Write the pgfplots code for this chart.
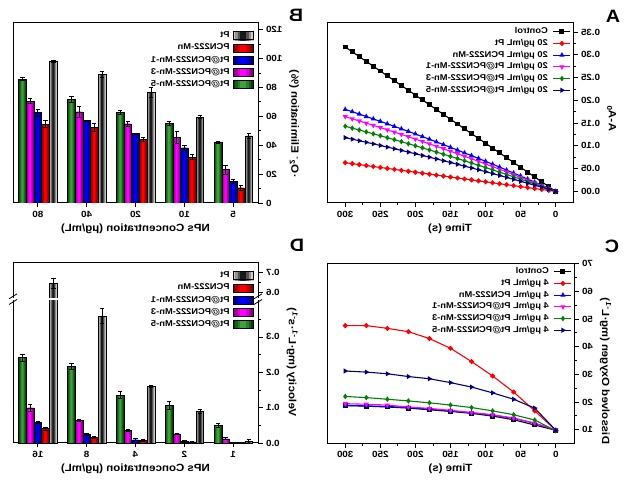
\documentclass[border=0pt]{standalone}
\usepackage{fontspec}
\setmainfont{Liberation Sans}
\usepackage{graphicx}
\usepackage{pgfplots}
\usepackage{pgfplotstable}
\pgfplotsset{compat=1.18}
\newcommand{\R}[1]{\scalebox{-1.1}[1]{#1}}
\definecolor{cgreen}{RGB}{0,128,0}
\definecolor{cnavy}{RGB}{0,0,128}
\definecolor{cmag}{RGB}{255,0,255}
\colorlet{grE}{cgreen!50!black}\colorlet{grC}{cgreen!75!white}
\colorlet{mgE}{cmag!50!black}\colorlet{mgC}{cmag}
\colorlet{blE}{blue!45!black}\colorlet{blC}{blue}
\colorlet{rdE}{red!50!black}\colorlet{rdC}{red}
\colorlet{ptE}{gray!40}\colorlet{ptC}{black!90}
\pgfplotsset{
  panel/.style={
    scale only axis, width=245bp, height=180bp,
    axis line style={line width=1bp},
    tick align=outside,
    major tick length=4.5bp, minor tick length=2.5bp,
    tick style={black, line width=0.8bp},
    xtick pos=bottom, ytick pos=right, yticklabel pos=right,
    /pgf/number format/assume math mode=true,
    ticklabel style={font=\bfseries\fontsize{9}{10}\selectfont},
    label style={font=\bfseries\fontsize{10.5}{12}\selectfont},
    ylabel style={rotate=180},
    legend plot pos=right,
    legend cell align=right,
    legend style={draw=none, fill=none, inner sep=0pt, outer sep=0pt,
      font=\bfseries\fontsize{8.5}{9}\selectfont,
      nodes={inner sep=0pt, text height=6.3bp, text depth=2.2bp},
      column sep=5bp, row sep=3.2bp,
      at={(1,1)}, anchor=north east, xshift=-2bp, yshift=-4.5bp},
  },
  lp/.style={line width=1.1bp, mark size=1.9bp, mark options={solid}},
  eb/.style={error bars/.cd, y dir=both, y explicit,
    error bar style={line width=0.8bp, black, xshift=#1},
    error mark options={rotate=90, black, mark size=2.2bp, line width=0.8bp}},
}
% legend box with a stepped horizontal gradient (edge colour #1, centre colour #2)
\newcommand{\legbox}[2]{%
  \fill[#1] (0bp,-4bp) rectangle (20bp,4bp);
  \fill[#2!33!#1] (2.5bp,-4bp) rectangle (17.5bp,4bp);
  \fill[#2!67!#1] (5bp,-4bp) rectangle (15bp,4bp);
  \fill[#2] (7.5bp,-4bp) rectangle (12.5bp,4bp);
  \draw[black, line width=0.5bp] (0bp,-4bp) rectangle (20bp,4bp);}
% one bar series: #1 table, #2 value column, #3 error column, #4 bar shift, #5 edge colour, #6 centre colour
\newcommand{\barseries}[6]{%
  \addplot[ybar, bar width=7.65bp, bar shift=#4, draw=none, fill=#5, forget plot] table[x=x, y=#2] {#1};
  \addplot[ybar, bar width=5.74bp, bar shift=#4, draw=none, fill=#6!33!#5, forget plot] table[x=x, y=#2] {#1};
  \addplot[ybar, bar width=3.83bp, bar shift=#4, draw=none, fill=#6!67!#5, forget plot] table[x=x, y=#2] {#1};
  \addplot[ybar, bar width=1.91bp, bar shift=#4, draw=none, fill=#6, forget plot] table[x=x, y=#2] {#1};
  \addplot[ybar, bar width=7.65bp, bar shift=#4, draw=black, line width=0.5bp, fill=none, forget plot, eb={#4}] table[x=x, y=#2, y error=#3] {#1};}

% Panel B: .O2- elimination (%); x: 0=80, 1=40, 2=20, 3=10, 4=5 ug/mL
\pgfplotstableread{
x  mn5  mn5e  mn3  mn3e  mn1  mn1e  pcn  pcne  pt   pte
0  85.6 1.0   70.6 1.5   62.5 2.5   54.5 2.5   97.8 0.8
1  71.8 2.0   63.0 4.0   57.0 0.5   52.4 2.5   88.8 2.0
2  62.8 1.5   54.7 2.0   48.0 0.5   43.8 1.5   76.4 3.5
3  54.9 1.5   45.5 4.0   38.1 2.0   31.8 1.5   59.5 0.8
4  41.8 0.5   23.1 3.0   15.0 1.5   10.4 2.0   46.4 2.0
}\tabB
% Panel D: velocity (mg L-1 s-1); x: 0=16, 1=8, 2=4, 3=2, 4=1 ug/mL
% broken axis: Pt at 16 ug/mL (0.646 +- 0.025) is drawn at 0.4245+(v-0.6)*0.5755 = 0.451
\pgfplotstableread{
x  mn5    mn5e  mn3   mn3e  mn1    mn1e  pcn    pcne  pt    pte
0  0.2415 0.010 0.099 0.011 0.0575 0.003 0.0406 0.004 0.451 0.014
1  0.217  0.008 0.065 0.003 0.0245 0.002 0.015  0.003 0.359 0.022
2  0.135  0.010 0.036 0.003 0.009  0.003 0.0075 0.003 0.161 0.003
3  0.106  0.012 0.026 0.002 0.004  0.002 0.003  0.002 0.089 0.005
4  0.050  0.005 0.012 0.003 0.001  0.001 0.001  0.001 0.005 0.005
}\tabD

\begin{document}
\begin{tikzpicture}
\path[use as bounding box] (0,0) rectangle (626bp,488bp);

% ---------------- Panel A ----------------
\begin{axis}[panel, at={(327bp,285bp)}, anchor=south west, width=246bp,
  x dir=reverse, xmin=-24.7, xmax=326, ymin=-0.0255, ymax=0.3697,
  xtick={0,50,100,150,200,250,300}, minor x tick num=1,
  ytick={0,0.05,0.1,0.15,0.2,0.25,0.3,0.35}, minor y tick num=1,
  xticklabel={\R{\pgfmathprintnumber{\tick}}},
  yticklabel={\R{\pgfmathprintnumber[fixed,fixed zerofill,precision=2]{\tick}}},
  ylabel style={at={(ticklabel cs:0.47)}},
  xlabel={\R{Time (s)}}, ylabel={\R{A-A\textsubscript{0}}}]
\addplot[lp, black, mark=square*] coordinates {(0,0)(10,0.0106)(20,0.0211)(30,0.0317)(40,0.0423)(50,0.0528)(60,0.0634)(70,0.0740)(80,0.0845)(90,0.0951)(100,0.1057)(110,0.1162)(120,0.1268)(130,0.1374)(140,0.1479)(150,0.1585)(160,0.1691)(170,0.1796)(180,0.1902)(190,0.2008)(200,0.2113)(210,0.2219)(220,0.2325)(230,0.2430)(240,0.2536)(250,0.2642)(260,0.2747)(270,0.2853)(280,0.2959)(290,0.3064)(300,0.317)};
\addlegendentry{\R{Control}}
\addplot[lp, red, mark=*] coordinates {(0,0)(10,0.0021)(20,0.0042)(30,0.0063)(40,0.0084)(50,0.0105)(60,0.0126)(70,0.0147)(80,0.0168)(90,0.0189)(100,0.021)(110,0.0231)(120,0.0252)(130,0.0273)(140,0.0294)(150,0.0315)(160,0.0336)(170,0.0357)(180,0.0378)(190,0.0399)(200,0.042)(210,0.0441)(220,0.0462)(230,0.0483)(240,0.0504)(250,0.0525)(260,0.0546)(270,0.0567)(280,0.0588)(290,0.0609)(300,0.063)};
\addlegendentry{\R{20 μg/mL Pt}}
\addplot[lp, blue, mark=triangle*] coordinates {(0,0)(10,0.0069)(20,0.0137)(30,0.0204)(40,0.0271)(50,0.0338)(60,0.0403)(70,0.0468)(80,0.0533)(90,0.0597)(100,0.0660)(110,0.0723)(120,0.0785)(130,0.0846)(140,0.0907)(150,0.0968)(160,0.1027)(170,0.1086)(180,0.1145)(190,0.1203)(200,0.1260)(210,0.1317)(220,0.1373)(230,0.1428)(240,0.1483)(250,0.1538)(260,0.1591)(270,0.1644)(280,0.1697)(290,0.1749)(300,0.1800)};
\addlegendentry{\R{20 μg/mL PCN222-Mn}}
\addplot[lp, cmag, mark=triangle*, mark options={rotate=180}] coordinates {(0,0)(10,0.0063)(20,0.0125)(30,0.0186)(40,0.0247)(50,0.0308)(60,0.0367)(70,0.0427)(80,0.0485)(90,0.0544)(100,0.0601)(110,0.0659)(120,0.0715)(130,0.0771)(140,0.0827)(150,0.0882)(160,0.0936)(170,0.0990)(180,0.1043)(190,0.1096)(200,0.1148)(210,0.1200)(220,0.1251)(230,0.1301)(240,0.1351)(250,0.1401)(260,0.1450)(270,0.1498)(280,0.1546)(290,0.1593)(300,0.164)};
\addlegendentry{\R{20 μg/mL Pt@PCN222-Mn-1}}
\addplot[lp, cgreen, mark=diamond*] coordinates {(0,0)(10,0.0055)(20,0.0109)(30,0.0162)(40,0.0216)(50,0.0268)(60,0.0320)(70,0.0372)(80,0.0423)(90,0.0474)(100,0.0524)(110,0.0574)(120,0.0624)(130,0.0672)(140,0.0721)(150,0.0769)(160,0.0816)(170,0.0863)(180,0.0910)(190,0.0956)(200,0.1001)(210,0.1046)(220,0.1091)(230,0.1135)(240,0.1178)(250,0.1222)(260,0.1264)(270,0.1306)(280,0.1348)(290,0.1389)(300,0.143)};
\addlegendentry{\R{20 μg/mL Pt@PCN222-Mn-3}}
\addplot[lp, cnavy, mark=triangle*, mark options={rotate=-90}] coordinates {(0,0)(10,0.0045)(20,0.0090)(30,0.0134)(40,0.0178)(50,0.0221)(60,0.0264)(70,0.0307)(80,0.0349)(90,0.0391)(100,0.0433)(110,0.0474)(120,0.0515)(130,0.0555)(140,0.0595)(150,0.0634)(160,0.0673)(170,0.0712)(180,0.0751)(190,0.0788)(200,0.0826)(210,0.0863)(220,0.0900)(230,0.0936)(240,0.0972)(250,0.1008)(260,0.1043)(270,0.1078)(280,0.1112)(290,0.1146)(300,0.118)};
\addlegendentry{\R{20 μg/mL Pt@PCN222-Mn-5}}
\end{axis}

% ---------------- Panel C ----------------
\begin{axis}[panel, at={(327bp,45bp)}, anchor=south west, width=247bp,
  x dir=reverse, xmin=-26, xmax=326, ymin=5.2, ymax=70.2,
  xtick={0,50,100,150,200,250,300}, minor x tick num=1,
  ytick={10,20,30,40,50,60,70}, minor y tick num=1,
  xticklabel={\R{\pgfmathprintnumber{\tick}}},
  yticklabel={\R{\pgfmathprintnumber{\tick}}},
  ylabel style={at={(ticklabel cs:0.4)}},
  xlabel={\R{Time (s)}}, ylabel={\R{Dissolved Oxygen (mg·L\textsuperscript{-1})}}]
\addplot[lp, black, mark=square*] coordinates {(0,9.8)(30,11.7)(60,13.6)(90,14.9)(120,15.9)(150,16.6)(180,17.2)(210,17.8)(240,18.2)(270,18.5)(300,18.7)};
\addlegendentry{\R{Control}}
\addplot[lp, red, mark=*] coordinates {(0,9.8)(30,16.8)(60,23.6)(90,29.4)(120,34.6)(150,39.4)(180,42.9)(210,45.4)(240,46.6)(270,47.6)(300,47.6)};
\addlegendentry{\R{4 μg/mL Pt}}
\addplot[lp, blue, mark=triangle*] coordinates {(0,9.8)(30,12.3)(60,14.1)(90,15.3)(120,16.1)(150,16.8)(180,17.4)(210,18.0)(240,18.4)(270,18.6)(300,18.8)};
\addlegendentry{\R{4 μg/mL PCN222-Mn}}
\addplot[lp, cmag, mark=triangle*, mark options={rotate=180}] coordinates {(0,9.9)(30,12.4)(60,14.2)(90,15.4)(120,16.2)(150,17.0)(180,17.7)(210,18.2)(240,18.9)(270,19.2)(300,19.4)};
\addlegendentry{\R{4 μg/mL Pt@PCN222-Mn-1}}
\addplot[lp, cgreen, mark=diamond*] coordinates {(0,9.6)(30,13.5)(60,15.4)(90,16.8)(120,18.0)(150,18.9)(180,19.7)(210,20.4)(240,21.0)(270,21.6)(300,22.0)};
\addlegendentry{\R{4 μg/mL Pt@PCN222-Mn-3}}
\addplot[lp, cnavy, mark=triangle*, mark options={rotate=-90}] coordinates {(0,9.8)(30,17.8)(60,21.0)(90,23.3)(120,25.4)(150,27.0)(180,28.4)(210,29.2)(240,30.2)(270,30.8)(300,31.2)};
\addlegendentry{\R{4 μg/mL Pt@PCN222-Mn-5}}
\end{axis}

% ---------------- Panel B ----------------
\begin{axis}[panel, at={(13bp,285bp)}, anchor=south west,
  xmin=-0.507, xmax=4.507, ymin=0, ymax=124.6,
  xtick={0,1,2,3,4}, xticklabels={\R{80},\R{40},\R{20},\R{10},\R{5}},
  ytick={0,20,40,60,80,100,120}, minor y tick num=1,
  yticklabel={\R{\pgfmathprintnumber{\tick}}},
  ylabel style={at={(ticklabel cs:0.44)}},
  legend style={row sep=3.7bp, column sep=3bp, xshift=-3bp, yshift=-4bp},
  xlabel={\R{NPs Concentration (μg/mL)}},
  ylabel={\R{·O\textsubscript{2}\textsuperscript{-} Elimination (\%)}}]
\barseries{\tabB}{mn5}{mn5e}{-15.29bp}{grE}{grC}
\barseries{\tabB}{mn3}{mn3e}{-7.65bp}{mgE}{mgC}
\barseries{\tabB}{mn1}{mn1e}{0bp}{blE}{blC}
\barseries{\tabB}{pcn}{pcne}{7.65bp}{rdE}{rdC}
\barseries{\tabB}{pt}{pte}{15.54bp}{ptE}{ptC}
\addlegendimage{legend image code/.code={\legbox{ptE}{ptC}}}\addlegendentry{\R{Pt}}
\addlegendimage{legend image code/.code={\legbox{rdE}{rdC}}}\addlegendentry{\R{PCN222-Mn}}
\addlegendimage{legend image code/.code={\legbox{blE}{blC}}}\addlegendentry{\R{Pt@PCN222-Mn-1}}
\addlegendimage{legend image code/.code={\legbox{mgE}{mgC}}}\addlegendentry{\R{Pt@PCN222-Mn-3}}
\addlegendimage{legend image code/.code={\legbox{grE}{grC}}}\addlegendentry{\R{Pt@PCN222-Mn-5}}
\end{axis}

% ---------------- Panel D ----------------
\begin{axis}[panel, at={(13bp,45bp)}, anchor=south west, clip=false,
  xmin=-0.507, xmax=4.507, ymin=0, ymax=0.509,
  xtick={0,1,2,3,4}, xticklabels={\R{16},\R{8},\R{4},\R{2},\R{1}},
  ytick={0,0.1,0.2,0.3,0.4245,0.4821},
  yticklabels={\R{0.0},\R{0.1},\R{0.2},\R{0.3},\R{0.6},\R{0.7}},
  minor ytick={0.05,0.15,0.25,0.35,0.4533},
  ylabel style={at={(ticklabel cs:0.45)}},
  legend style={row sep=3.7bp, column sep=3bp, xshift=-3bp, yshift=-4bp},
  xlabel={\R{NPs Concentration (μg/mL)}},
  ylabel={\R{Velocity (mg·L\textsuperscript{-1}·s\textsuperscript{-1})}}]
\barseries{\tabD}{mn5}{mn5e}{-15.29bp}{grE}{grC}
\barseries{\tabD}{mn3}{mn3e}{-7.65bp}{mgE}{mgC}
\barseries{\tabD}{mn1}{mn1e}{0bp}{blE}{blC}
\barseries{\tabD}{pcn}{pcne}{7.65bp}{rdE}{rdC}
\barseries{\tabD}{pt}{pte}{15.54bp}{ptE}{ptC}
\addlegendimage{legend image code/.code={\legbox{ptE}{ptC}}}\addlegendentry{\R{Pt}}
\addlegendimage{legend image code/.code={\legbox{rdE}{rdC}}}\addlegendentry{\R{PCN222-Mn}}
\addlegendimage{legend image code/.code={\legbox{blE}{blC}}}\addlegendentry{\R{Pt@PCN222-Mn-1}}
\addlegendimage{legend image code/.code={\legbox{mgE}{mgC}}}\addlegendentry{\R{Pt@PCN222-Mn-3}}
\addlegendimage{legend image code/.code={\legbox{grE}{grC}}}\addlegendentry{\R{Pt@PCN222-Mn-5}}
\fill[white] (axis cs:0.22,0.403) rectangle (axis cs:0.41,0.4105);
\fill[white] ([xshift=-3bp]axis cs:-0.507,0.403) rectangle ([xshift=3bp]axis cs:-0.507,0.4105);
\draw[black, line width=0.8bp] ([xshift=-4bp,yshift=-4bp]axis cs:-0.507,0.403) -- ([xshift=4bp,yshift=1bp]axis cs:-0.507,0.403);
\draw[black, line width=0.8bp] ([xshift=-4bp,yshift=-1bp]axis cs:-0.507,0.4105) -- ([xshift=4bp,yshift=4bp]axis cs:-0.507,0.4105);
\fill[white] ([xshift=-3bp]axis cs:4.507,0.403) rectangle ([xshift=3bp]axis cs:4.507,0.4105);
\draw[black, line width=0.8bp] ([xshift=-4bp,yshift=-4bp]axis cs:4.507,0.403) -- ([xshift=4bp,yshift=1bp]axis cs:4.507,0.403);
\draw[black, line width=0.8bp] ([xshift=-4bp,yshift=-1bp]axis cs:4.507,0.4105) -- ([xshift=4bp,yshift=4bp]axis cs:4.507,0.4105);
\end{axis}

% panel letters
\node[font=\bfseries\fontsize{18}{18}\selectfont] at (613bp,472bp) {\R{A}};
\node[font=\bfseries\fontsize{18}{18}\selectfont] at (296bp,473bp) {\R{B}};
\node[font=\bfseries\fontsize{18}{18}\selectfont] at (612bp,242bp) {\R{C}};
\node[font=\bfseries\fontsize{18}{18}\selectfont] at (297bp,243bp) {\R{D}};
\end{tikzpicture}
\end{document}
